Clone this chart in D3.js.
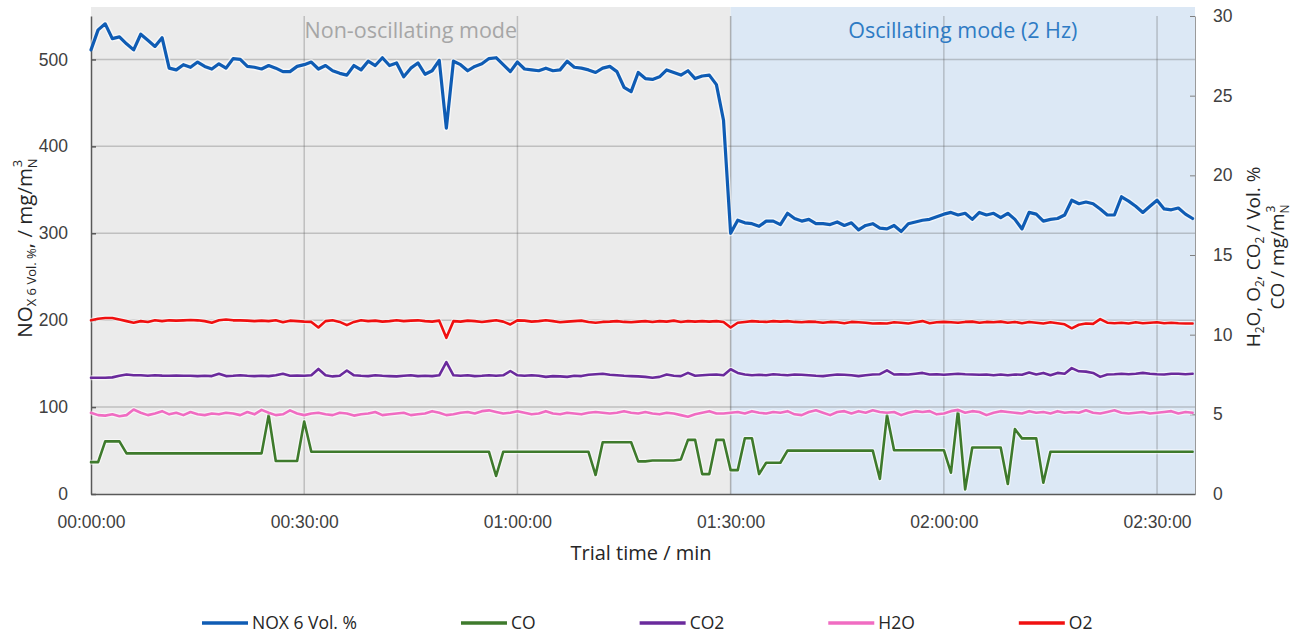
<!DOCTYPE html>
<html>
<head>
<meta charset="utf-8">
<script src="https://cdn.jsdelivr.net/npm/d3@7/dist/d3.min.js"></script>
<style>
  body { margin: 0; background: #fff; }
  svg { display: block; font-family: "Open Sans", "Liberation Sans", sans-serif; }
  .tick text { fill: #404040; font-size: 17.5px; }
</style>
</head>
<body>
<svg id="chart" width="1307" height="633"></svg>
<script>
// Trial time in minutes (one sample per minute)
const timeMinutes = d3.range(0, 156);

// Time axis ticks
const timeTicks = [0, 30, 60, 90, 120, 150];
const timeTickLabels = ["00:00:00", "00:30:00", "01:00:00", "01:30:00", "02:00:00", "02:30:00"];

// Left axis ticks (NOx, mg/m3) and right axis ticks
const leftTicks = [0, 100, 200, 300, 400, 500];
const rightTicks = [0, 5, 10, 15, 20, 25, 30];

// Mode split (minutes) and region labels
const modeSwitch = 90;
const modeLabels = ["Non-oscillating mode", "Oscillating mode (2 Hz)"];

// NOx 6 Vol.% (left axis)
const noxValues = [
  511, 534, 541, 524, 526, 518, 511, 529, 522, 515,
  525, 490, 488, 494, 491, 497, 492, 489, 495, 490,
  501, 500, 492, 491, 489, 493, 490, 486, 486, 492,
  494, 497, 489, 493, 487, 484, 482, 493, 488, 498,
  493, 502, 493, 496, 480, 490, 496, 483, 487, 499,
  421, 498, 494, 487, 492, 495, 501, 502, 494, 486,
  497, 489, 488, 487, 490, 487, 488, 498, 491, 490,
  488, 485, 490, 492, 486, 468, 463, 485, 478, 477,
  480, 488, 485, 482, 487, 478, 481, 482, 471, 430,
  300, 315, 312, 311, 308, 314, 314, 310, 323, 317,
  314, 316, 311, 311, 310, 313, 309, 312, 304, 309,
  311, 306, 305, 309, 302, 311, 313, 315, 316, 319,
  322, 324, 321, 323, 316, 324, 321, 323, 318, 323,
  316, 305, 324, 322, 314, 316, 317, 321, 338, 334,
  336, 334, 328, 321, 321, 342, 337, 331, 324, 331,
  338, 328, 327, 329, 322, 317
];

// CO (right axis)
const coValues = [
  2.0, 2.0, 3.3, 3.3, 3.3, 2.55, 2.55, 2.55, 2.55, 2.55,
  2.55, 2.55, 2.55, 2.55, 2.55, 2.55, 2.55, 2.55, 2.55, 2.55,
  2.55, 2.55, 2.55, 2.55, 2.55, 4.95, 2.07, 2.07, 2.07, 2.07,
  4.55, 2.65, 2.65, 2.65, 2.65, 2.65, 2.65, 2.65, 2.65, 2.65,
  2.65, 2.65, 2.65, 2.65, 2.65, 2.65, 2.65, 2.65, 2.65, 2.65,
  2.65, 2.65, 2.65, 2.65, 2.65, 2.65, 2.65, 1.13, 2.65, 2.65,
  2.65, 2.65, 2.65, 2.65, 2.65, 2.65, 2.65, 2.65, 2.65, 2.65,
  2.65, 1.19, 3.25, 3.25, 3.25, 3.25, 3.25, 2.05, 2.05, 2.1,
  2.1, 2.1, 2.1, 2.17, 3.4, 3.4, 1.25, 1.25, 3.4, 3.4,
  1.5, 1.5, 3.5, 3.5, 1.25, 1.96, 1.96, 1.96, 2.72, 2.72,
  2.72, 2.72, 2.72, 2.72, 2.72, 2.72, 2.72, 2.72, 2.72, 2.72,
  2.72, 0.95, 4.95, 2.75, 2.75, 2.75, 2.75, 2.75, 2.75, 2.75,
  2.75, 1.34, 5.26, 0.29, 2.92, 2.92, 2.92, 2.92, 2.92, 0.63,
  4.07, 3.49, 3.49, 3.49, 0.71, 2.65, 2.65, 2.65, 2.65, 2.65,
  2.65, 2.65, 2.65, 2.65, 2.65, 2.65, 2.65, 2.65, 2.65, 2.65,
  2.65, 2.65, 2.65, 2.65, 2.65, 2.65
];

// CO2 (right axis)
const co2Values = [
  7.3, 7.3, 7.3, 7.32, 7.42, 7.5, 7.45, 7.45, 7.42, 7.45,
  7.43, 7.42, 7.44, 7.42, 7.42, 7.4, 7.42, 7.4, 7.55, 7.4,
  7.42, 7.45, 7.42, 7.4, 7.42, 7.4, 7.45, 7.55, 7.42, 7.44,
  7.42, 7.45, 7.85, 7.45, 7.38, 7.42, 7.75, 7.45, 7.42, 7.4,
  7.45, 7.42, 7.4, 7.38, 7.42, 7.45, 7.4, 7.42, 7.4, 7.45,
  8.28, 7.45, 7.42, 7.45, 7.4, 7.42, 7.45, 7.42, 7.45, 7.72,
  7.45, 7.42, 7.45, 7.42, 7.35, 7.4, 7.38, 7.35, 7.42, 7.4,
  7.48, 7.52, 7.55, 7.48, 7.45, 7.42, 7.4, 7.38, 7.35, 7.3,
  7.35, 7.5, 7.42, 7.4, 7.6, 7.42, 7.45, 7.48, 7.5, 7.45,
  7.83, 7.6, 7.5, 7.45, 7.48, 7.45, 7.52, 7.48, 7.45, 7.5,
  7.48, 7.45, 7.42, 7.4, 7.45, 7.5, 7.48, 7.45, 7.4, 7.45,
  7.5, 7.52, 7.76, 7.5, 7.52, 7.5, 7.55, 7.6, 7.5, 7.52,
  7.48, 7.52, 7.55, 7.52, 7.5, 7.48, 7.5, 7.45, 7.5, 7.45,
  7.5, 7.48, 7.62, 7.5, 7.6, 7.45, 7.6, 7.55, 7.9, 7.7,
  7.68, 7.6, 7.35, 7.5, 7.52, 7.55, 7.52, 7.55, 7.6, 7.55,
  7.52, 7.5, 7.55, 7.55, 7.52, 7.55
];

// H2O (right axis)
const h2oValues = [
  5.1, 4.95, 4.92, 5.0, 4.88, 4.95, 5.3, 5.1, 4.95, 5.05,
  5.2, 5.0, 5.1, 4.95, 5.15, 5.0, 4.95, 5.05, 5.0, 5.1,
  5.05, 4.95, 5.15, 5.0, 5.28, 5.1, 4.95, 5.0, 5.25, 5.05,
  4.95, 5.05, 5.1, 5.0, 4.95, 5.1, 5.05, 4.92, 5.0, 5.05,
  5.15, 4.95, 5.0, 5.05, 5.1, 4.95, 5.0, 5.05, 5.2, 5.1,
  4.95, 5.0, 5.1, 5.15, 5.05, 5.2, 5.25, 5.15, 5.05, 5.1,
  5.2, 5.1, 5.0, 5.05, 5.2, 5.05, 5.0, 5.1, 5.05, 5.0,
  5.1, 5.15, 5.1, 5.05, 5.1, 5.2, 5.1, 5.05, 5.15, 5.05,
  5.0, 5.1, 5.05, 4.95, 4.85, 5.0, 5.1, 5.2, 5.05, 5.05,
  5.1, 5.15, 5.05, 5.2, 5.1, 5.05, 5.15, 5.1, 5.2, 5.0,
  4.95, 5.15, 5.25, 5.1, 4.95, 5.15, 5.2, 5.05, 5.2, 5.1,
  5.25, 5.15, 5.1, 5.15, 4.95, 5.1, 5.2, 5.15, 5.2, 5.0,
  5.05, 5.2, 5.28, 5.1, 5.2, 5.15, 4.95, 5.1, 5.2, 5.15,
  5.1, 5.05, 5.2, 5.1, 5.15, 5.05, 5.2, 5.1, 5.15, 5.1,
  5.25, 5.1, 5.05, 5.15, 5.25, 5.1, 5.05, 5.1, 5.15, 5.05,
  5.1, 5.15, 5.2, 5.05, 5.15, 5.1
];

// O2 (right axis)
const o2Values = [
  10.9, 11.0, 11.05, 11.05, 10.95, 10.85, 10.75, 10.85, 10.8, 10.9,
  10.85, 10.9, 10.88, 10.9, 10.92, 10.9, 10.85, 10.75, 10.9, 10.95,
  10.9, 10.9, 10.88, 10.85, 10.88, 10.85, 10.9, 10.78, 10.88, 10.85,
  10.82, 10.8, 10.45, 10.85, 10.9, 10.8, 10.6, 10.8, 10.9, 10.85,
  10.88, 10.82, 10.85, 10.9, 10.85, 10.88, 10.9, 10.85, 10.82, 10.88,
  9.8, 10.85, 10.82, 10.88, 10.85, 10.8, 10.85, 10.9, 10.82, 10.64,
  10.9, 10.88, 10.82, 10.85, 10.9, 10.85, 10.78, 10.82, 10.85, 10.88,
  10.8, 10.75, 10.8, 10.82, 10.85, 10.8, 10.78, 10.82, 10.85, 10.8,
  10.85, 10.82, 10.88, 10.8, 10.85, 10.82, 10.85, 10.82, 10.85, 10.8,
  10.45, 10.75, 10.8, 10.85, 10.82, 10.8, 10.85, 10.82, 10.85, 10.8,
  10.78, 10.82, 10.8, 10.75, 10.8, 10.78, 10.72, 10.8, 10.78, 10.75,
  10.7, 10.72, 10.7, 10.78, 10.75, 10.7, 10.78, 10.85, 10.72, 10.78,
  10.8, 10.78, 10.75, 10.8, 10.82, 10.75, 10.8, 10.78, 10.82, 10.75,
  10.8, 10.72, 10.8, 10.75, 10.7, 10.78, 10.72, 10.65, 10.4, 10.62,
  10.7, 10.68, 10.98, 10.75, 10.72, 10.75, 10.7, 10.78, 10.72, 10.75,
  10.78, 10.72, 10.75, 10.72, 10.7, 10.7
];

// Series in legend order
const seriesNames = ["NOX 6 Vol. %", "CO", "CO2", "H2O", "O2"];
const seriesColors = ["#0f5cb4", "#3e7a2c", "#6a2a9c", "#f06cc2", "#f01010"];
const seriesValues = [noxValues, coValues, co2Values, h2oValues, o2Values];
const seriesAxis = ["left", "right", "right", "right", "right"];

const svg = d3.select("#chart");

// Plot area
const plotLeft = 91, plotRight = 1195, plotTop = 16, plotBottom = 494;

const x = d3.scaleLinear().domain([0, 155.34]).range([plotLeft, plotRight]);
const yLeft = d3.scaleLinear().domain([0, 550]).range([plotBottom, plotTop]);
const yRight = d3.scaleLinear().domain([0, 30]).range([plotBottom, plotTop]);

// Mode backgrounds
svg.append("rect")
    .attr("x", plotLeft).attr("y", 7)
    .attr("width", x(modeSwitch) - plotLeft).attr("height", plotBottom - 7)
    .attr("fill", "#ebebeb");
svg.append("rect")
    .attr("x", x(modeSwitch)).attr("y", 7)
    .attr("width", plotRight - x(modeSwitch)).attr("height", plotBottom - 7)
    .attr("fill", "#dce8f5");

// Gridlines
const grid = svg.append("g");
grid.selectAll("line.h")
    .data(leftTicks.filter(d => d > 0))
    .enter().append("line")
    .attr("x1", plotLeft).attr("x2", plotRight)
    .attr("y1", d => yLeft(d)).attr("y2", d => yLeft(d))
    .attr("stroke", "rgba(90,90,90,0.3)")
    .attr("stroke-width", 1.5);
grid.selectAll("line.v")
    .data(timeTicks.filter(d => d > 0))
    .enter().append("line")
    .attr("x1", d => x(d)).attr("x2", d => x(d))
    .attr("y1", plotTop).attr("y2", plotBottom)
    .attr("stroke", d => d === modeSwitch ? "rgba(80,80,80,0.4)" : "rgba(90,90,90,0.3)")
    .attr("stroke-width", 1.5);

// Mode labels
svg.append("text")
    .attr("x", (plotLeft + x(modeSwitch)) / 2).attr("y", 38)
    .attr("text-anchor", "middle")
    .attr("font-size", 21.5)
    .attr("fill", "#a6a6a6")
    .text(modeLabels[0]);
svg.append("text")
    .attr("x", (x(modeSwitch) + plotRight) / 2).attr("y", 38)
    .attr("text-anchor", "middle")
    .attr("font-size", 21.5)
    .attr("fill", "#2e7bc4")
    .text(modeLabels[1]);

// Axes
const leftAxis = svg.append("g")
    .attr("transform", `translate(${plotLeft},0)`)
    .call(d3.axisLeft(yLeft).tickValues(leftTicks).tickSizeInner(-5).tickSizeOuter(0).tickPadding(23));
leftAxis.select(".domain").attr("stroke", "#595959").attr("stroke-width", 1.5);
leftAxis.selectAll(".tick line").attr("stroke", "#595959").attr("stroke-width", 1.5);

const rightAxis = svg.append("g")
    .attr("transform", `translate(${plotRight},0)`)
    .call(d3.axisRight(yRight).tickValues(rightTicks).tickSizeInner(-5).tickSizeOuter(0).tickPadding(18));
rightAxis.select(".domain").attr("stroke", "#9a9a9a").attr("stroke-width", 1);
rightAxis.selectAll(".tick line").attr("stroke", "#808080");

const bottomAxis = svg.append("g")
    .attr("transform", `translate(0,${plotBottom})`)
    .call(d3.axisBottom(x).tickValues(timeTicks)
        .tickFormat((d, i) => timeTickLabels[i])
        .tickSize(0).tickPadding(22));
bottomAxis.select(".domain").attr("stroke", "#595959").attr("stroke-width", 1.5);

svg.selectAll(".tick text").attr("font-family", null).attr("font-size", null);

// Series lines
const lines = svg.append("g");
seriesValues.forEach((vals, s) => {
    const yScale = seriesAxis[s] === "left" ? yLeft : yRight;
    const line = d3.line()
        .x((d, i) => x(timeMinutes[i]))
        .y(d => yScale(d));
    lines.append("path")
        .datum(vals)
        .attr("d", line)
        .attr("fill", "none")
        .attr("stroke", "rgba(255,255,255,0.6)")
        .attr("stroke-width", s === 0 ? 6 : 5)
        .attr("stroke-linejoin", "round");
    lines.append("path")
        .datum(vals)
        .attr("d", line)
        .attr("fill", "none")
        .attr("stroke", seriesColors[s])
        .attr("stroke-width", s === 0 ? 3.2 : 2.6)
        .attr("stroke-linejoin", "round")
        .attr("stroke-linecap", "round");
});

// Axis titles
svg.append("text")
    .attr("x", (plotLeft + plotRight) / 2 - 2).attr("y", 560)
    .attr("text-anchor", "middle")
    .attr("font-size", 20)
    .attr("fill", "#262626")
    .text("Trial time / min");

const leftTitle = svg.append("text")
    .attr("transform", "translate(32,248) rotate(-90)")
    .attr("text-anchor", "middle")
    .attr("font-size", 20.5)
    .attr("fill", "#262626");
leftTitle.append("tspan").text("NO");
leftTitle.append("tspan").attr("font-size", 13).attr("dy", 4).text("X 6 Vol. %");
leftTitle.append("tspan").attr("dy", -4).text(", / mg/m");
leftTitle.append("tspan").attr("font-size", 13).attr("dy", 5).text("N");
leftTitle.append("tspan").attr("font-size", 13).attr("dx", -9).attr("dy", -15).text("3");

const rightTitle1 = svg.append("text")
    .attr("transform", "translate(1260,257) rotate(-90)")
    .attr("text-anchor", "middle")
    .attr("font-size", 19)
    .attr("fill", "#262626");
rightTitle1.append("tspan").text("H");
rightTitle1.append("tspan").attr("font-size", 12).attr("dy", 4).text("2");
rightTitle1.append("tspan").attr("dy", -4).text("O, O");
rightTitle1.append("tspan").attr("font-size", 12).attr("dy", 4).text("2");
rightTitle1.append("tspan").attr("dy", -4).text(", CO");
rightTitle1.append("tspan").attr("font-size", 12).attr("dy", 4).text("2");
rightTitle1.append("tspan").attr("dy", -4).text(" / Vol. %");

const rightTitle2 = svg.append("text")
    .attr("transform", "translate(1284,257) rotate(-90)")
    .attr("text-anchor", "middle")
    .attr("font-size", 19)
    .attr("fill", "#262626");
rightTitle2.append("tspan").text("CO  /  mg/m");
rightTitle2.append("tspan").attr("font-size", 12).attr("dy", 5).text("N");
rightTitle2.append("tspan").attr("font-size", 12).attr("dx", -8).attr("dy", -14).text("3");

// Legend
const legend = svg.append("g").attr("transform", "translate(0,623)");
let legendX = 202;
seriesNames.forEach((name, s) => {
    const item = legend.append("g").attr("transform", `translate(${legendX},0)`);
    item.append("line")
        .attr("x1", 0).attr("x2", 46)
        .attr("stroke", seriesColors[s])
        .attr("stroke-width", 3.5);
    const label = item.append("text")
        .attr("x", 50).attr("y", 6)
        .attr("font-size", 17.5)
        .attr("fill", "#262626")
        .text(name);
    legendX += 46 + label.node().getComputedTextLength() + 108;
});
</script>
</body>
</html>
